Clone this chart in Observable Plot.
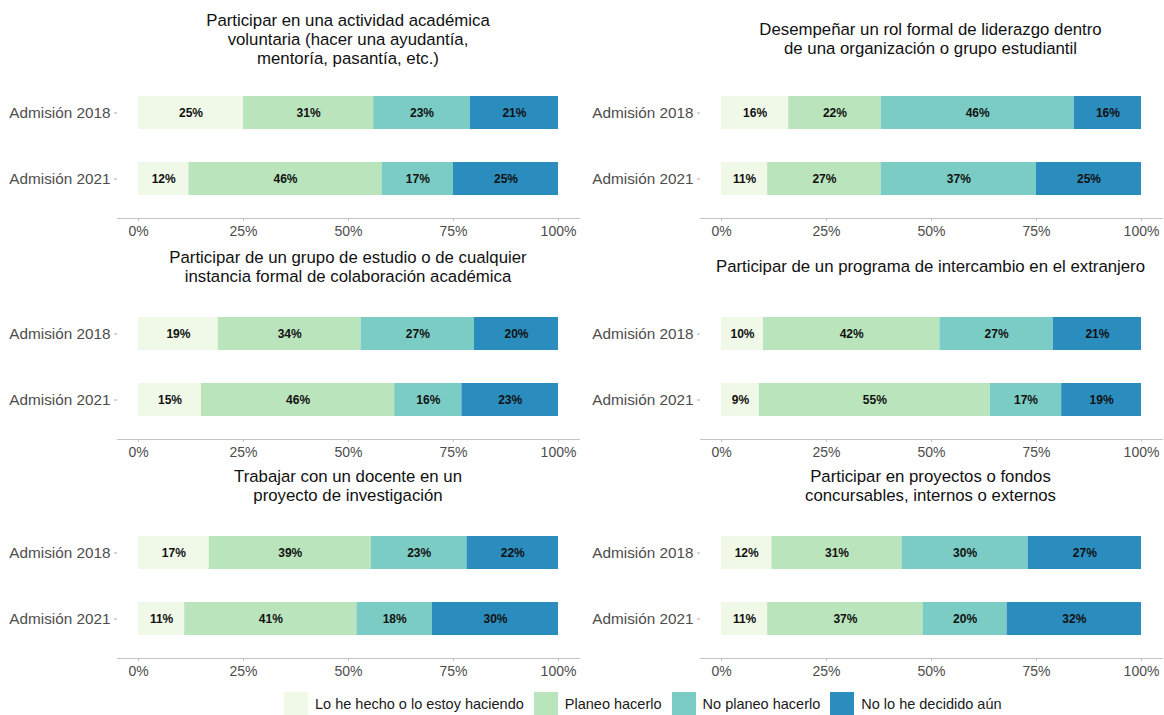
<!DOCTYPE html>
<html>
<head>
<meta charset="utf-8">
<script src="https://cdn.jsdelivr.net/npm/d3@7"></script>
<script src="https://cdn.jsdelivr.net/npm/@observablehq/plot@0.6"></script>
<style>
  html, body { margin: 0; padding: 0; background: #fff; }
  #root { position: relative; width: 1164px; height: 715px; overflow: hidden; font-family: "Liberation Sans", Arial, sans-serif; }
  .cell { position: absolute; width: 582px; height: 240px; }
  .title { position: absolute; left: 117px; width: 462px; text-align: center; font-size: 16.8px; line-height: 19px; color: #111; display: flex; align-items: center; justify-content: center; }
  .legend { position: absolute; left: 284px; top: 692px; display: flex; align-items: center; font-size: 14.5px; color: #1a1a1a; }
  .legend .sw { width: 24px; height: 24px; margin-right: 7px; }
  .legend .lab { margin-right: 10px; }
  svg { overflow: visible; }
</style>
</head>
<body>
<div id="root"></div>
<script>
const categories = ["Lo he hecho o lo estoy haciendo", "Planeo hacerlo", "No planeo hacerlo", "No lo he decidido aún"];
const colors = ["#f0f9e8", "#bae4bc", "#7bccc4", "#2b8cbe"];
const years = ["Admisión 2018", "Admisión 2021"];
const xTicks = [0, 0.25, 0.5, 0.75, 1];

const titles = [
  ["Participar en una actividad académica", "voluntaria (hacer una ayudantía,", "mentoría, pasantía, etc.)"],
  ["Desempeñar un rol formal de liderazgo dentro", "de una organización o grupo estudiantil"],
  ["Participar de un grupo de estudio o de cualquier", "instancia formal de colaboración académica"],
  ["Participar de un programa de intercambio en el extranjero"],
  ["Trabajar con un docente en un", "proyecto de investigación"],
  ["Participar en proyectos o fondos", "concursables, internos o externos"]
];

const values2018 = [
  [25, 31, 23, 21],
  [16, 22, 46, 16],
  [19, 34, 27, 20],
  [10, 42, 27, 21],
  [17, 39, 23, 22],
  [12, 31, 30, 27]
];
const values2021 = [
  [12, 46, 17, 25],
  [11, 27, 37, 25],
  [15, 46, 16, 23],
  [9, 55, 17, 19],
  [11, 41, 18, 30],
  [11, 37, 20, 32]
];

const root = document.getElementById("root");
const rowTops = [0, 220.5, 440];
const colLefts = [0, 582.5];
const titleCenters = [39, 46, 46];

titles.forEach((t, i) => {
  const row = Math.floor(i / 2), col = i % 2;
  const data = [];
  [values2018[i], values2021[i]].forEach((vals, k) => {
    vals.forEach((v, j) => data.push({year: years[k], cat: categories[j], value: v}));
  });

  const cell = document.createElement("div");
  cell.className = "cell";
  cell.style.left = colLefts[col] + "px";
  cell.style.top = rowTops[row] + "px";

  const plot = Plot.plot({
    width: 582,
    height: 240,
    marginTop: 72,
    marginBottom: 22,
    marginLeft: 117,
    marginRight: 3,
    style: {fontFamily: "'Liberation Sans', Arial, sans-serif", background: "transparent"},
    x: {domain: [-0.05, 1.05]},
    y: {domain: years, paddingInner: 0.5, paddingOuter: 0.35},
    color: {domain: categories, range: colors},
    marks: [
      Plot.frame({anchor: "bottom", stroke: "#c4c4c4"}),
      Plot.barX(data, Plot.stackX({x: "value", y: "year", fill: "cat", z: "cat", offset: "normalize"})),
      Plot.text(data, Plot.stackX({x: "value", y: "year", z: "cat", offset: "normalize", text: d => d.value + "%", fill: "#111", fontWeight: "bold", fontSize: 12})),
      Plot.axisX({ticks: xTicks, tickFormat: d => Math.round(d * 100) + "%", tickSize: 3, tickPadding: 5, stroke: "#c4c4c4", fill: "#4d4d4d", fontSize: 14, label: null}),
      Plot.axisY({tickSize: 3, tickPadding: 4, stroke: "#aaa", fill: "#4d4d4d", fontSize: 15.3, label: null})
    ]
  });
  cell.appendChild(plot);

  const title = document.createElement("div");
  title.className = "title";
  const h = t.length * 19;
  title.style.top = (titleCenters[row] - h / 2) + "px";
  title.style.height = h + "px";
  title.innerHTML = t.join("<br>");
  cell.appendChild(title);

  root.appendChild(cell);
});

const legend = document.createElement("div");
legend.className = "legend";
categories.forEach((c, j) => {
  const sw = document.createElement("span");
  sw.className = "sw";
  sw.style.background = colors[j];
  const lab = document.createElement("span");
  lab.className = "lab";
  lab.textContent = c;
  legend.appendChild(sw);
  legend.appendChild(lab);
});
root.appendChild(legend);
</script>
</body>
</html>
